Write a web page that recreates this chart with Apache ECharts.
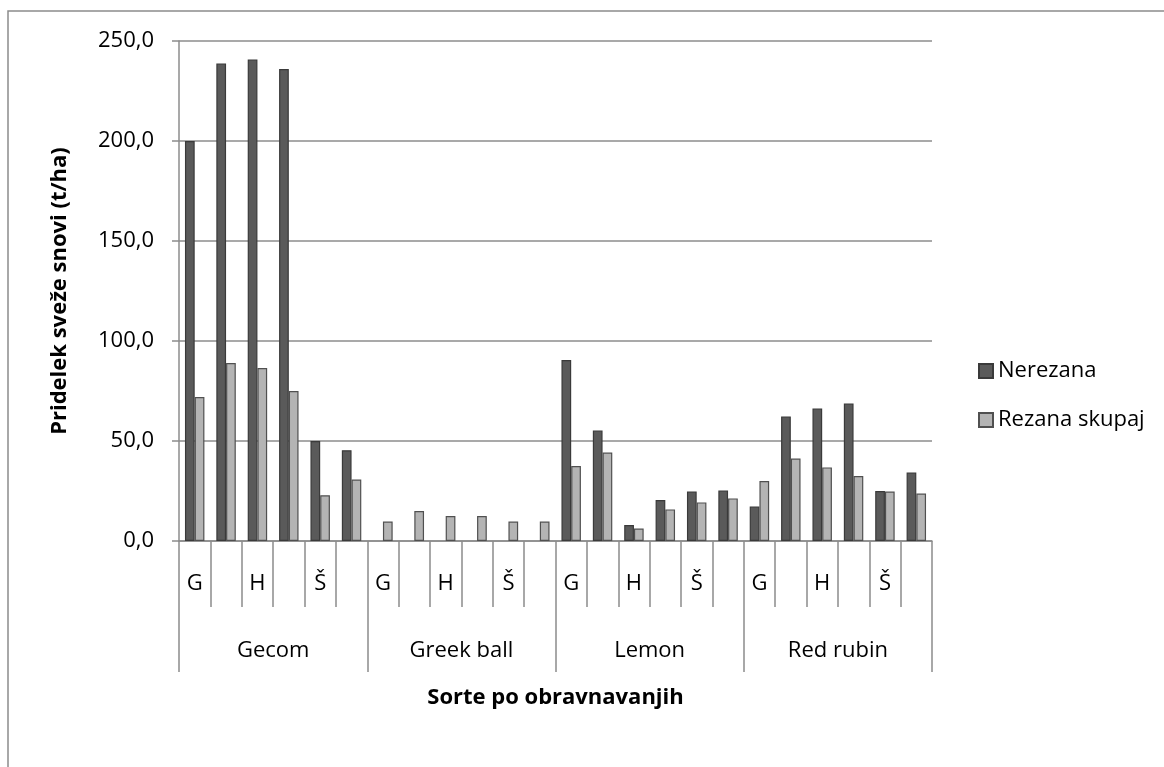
<!DOCTYPE html>
<html>
<head>
<meta charset="utf-8">
<script src="https://cdn.jsdelivr.net/npm/echarts@6/dist/echarts.min.js"></script>
<style>
html,body{margin:0;padding:0;background:#fff;}
#chart{width:1164px;height:767px;}
</style>
</head>
<body>
<div id="chart"></div>
<script>
var groups = ['Gecom', 'Greek ball', 'Lemon', 'Red rubin'];
var subLabels = ['G', '', 'H', '', 'Š', ''];
var categories = [];
groups.forEach(function (g) { subLabels.forEach(function (s) { categories.push(s); }); });

var seriesNames = ['Nerezana', 'Rezana skupaj'];
var nerezana = [
  200.0, 238.7, 240.7, 236.0, 50.0, 45.4,
  null, null, null, null, null, null,
  90.5, 55.2, 8.0, 20.5, 24.7, 25.2,
  17.3, 62.3, 66.2, 68.8, 25.0, 34.2
];
var rezana = [
  72.0, 89.0, 86.5, 75.0, 22.9, 30.7,
  9.7, 15.0, 12.5, 12.5, 9.7, 9.7,
  37.5, 44.2, 6.2, 15.8, 19.3, 21.3,
  30.0, 41.2, 36.8, 32.5, 24.7, 23.7
];
var yTicks = { min: 0, max: 250, interval: 50 };

var FONT = '"Open Sans", "Noto Sans", sans-serif';
var chart = echarts.init(document.getElementById('chart'), null, { renderer: 'canvas' });
chart.setOption({
  backgroundColor: '#fff',
  animation: false,
  textStyle: { fontFamily: FONT, color: '#000' },
  graphic: [{
    type: 'rect', silent: true,
    shape: { x: 8, y: 11, width: 1300, height: 900 },
    style: { fill: 'none', stroke: '#8c8c8c', lineWidth: 1.5 }
  }],
  grid: { left: 179, right: 232, top: 41, bottom: 226, containLabel: false },
  legend: {
    orient: 'vertical', left: 973, top: 355,
    itemWidth: 14, itemHeight: 14, itemGap: 27,
    icon: 'rect',
    textStyle: { fontSize: 22, fontFamily: FONT, color: '#000' },
    data: seriesNames
  },
  xAxis: [{
    type: 'category', data: categories, position: 'bottom',
    axisLine: { show: true, lineStyle: { color: '#8c8c8c', width: 1.5 } },
    axisTick: { show: true, interval: 0, length: 66, lineStyle: { color: '#8c8c8c', width: 1.5 } },
    axisLabel: { interval: 0, margin: 32, fontSize: 22, color: '#000', fontFamily: FONT }
  }, {
    type: 'category', data: groups, position: 'bottom', offset: 0,
    name: 'Sorte po obravnavanjih', nameLocation: 'middle', nameGap: 146,
    nameTextStyle: { fontSize: 22, fontWeight: 'bold', color: '#000', fontFamily: FONT },
    axisLine: { show: false },
    axisTick: { show: true, interval: 0, length: 131, lineStyle: { color: '#8c8c8c', width: 1.5 } },
    axisLabel: { interval: 0, margin: 99, fontSize: 22, color: '#000', fontFamily: FONT }
  }],
  yAxis: {
    type: 'value', min: yTicks.min, max: yTicks.max, interval: yTicks.interval,
    name: 'Pridelek sveže snovi (t/ha)', nameLocation: 'middle', nameRotate: 90, nameGap: 108,
    nameTextStyle: { fontSize: 22, fontWeight: 'bold', color: '#000', fontFamily: FONT },
    axisLine: { show: true, lineStyle: { color: '#8c8c8c', width: 1.5 } },
    axisTick: { show: true, length: 7, lineStyle: { color: '#8c8c8c', width: 1.5 } },
    splitLine: { show: true, lineStyle: { color: '#8c8c8c', width: 1.5 } },
    axisLabel: {
      margin: 25, fontSize: 22, color: '#000', fontFamily: FONT,
      formatter: function (v) { return v.toFixed(1).replace('.', ','); }
    }
  },
  series: [{
    name: seriesNames[0], type: 'bar', data: nerezana, xAxisIndex: 0,
    barWidth: '31%', barGap: '0%',
    itemStyle: { color: '#5a5a5a', borderColor: '#3a3a3a', borderWidth: 1.2 }
  }, {
    name: seriesNames[1], type: 'bar', data: rezana, xAxisIndex: 0,
    barWidth: '31%', barGap: '0%',
    itemStyle: { color: '#b4b4b4', borderColor: '#505050', borderWidth: 1.2 }
  }]
});
</script>
</body>
</html>
